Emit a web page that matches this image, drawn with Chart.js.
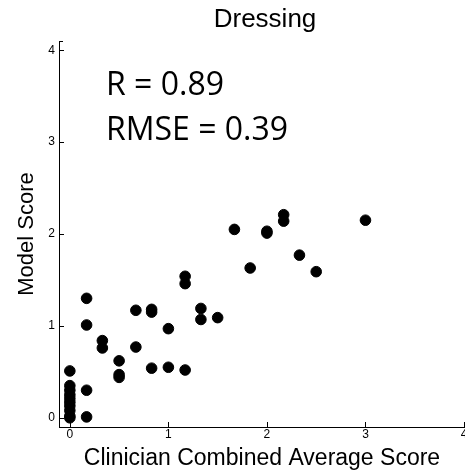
<!DOCTYPE html>
<html>
<head>
<meta charset="utf-8">
<script src="https://cdn.jsdelivr.net/npm/chart.js@4.4.0/dist/chart.umd.min.js"></script>
<style>
  html, body { margin: 0; padding: 0; background: #fff; }
  #wrap { width: 465px; height: 473px; }
</style>
</head>
<body>
<div id="wrap"><canvas id="c" width="465" height="473"></canvas></div>
<script>
// clinician combined average score vs model score
const clinicianScore = [
  0, 0, 0, 0, 0, 0, 0, 0, 0, 0,
  0.17, 0.17, 0.17, 0.17,
  0.33, 0.33,
  0.5, 0.5, 0.5,
  0.67, 0.67,
  0.83, 0.83, 0.83,
  1.0, 1.0,
  1.17, 1.17, 1.17,
  1.33, 1.33,
  1.5,
  1.67, 1.83, 2.0, 2.0, 2.17, 2.17, 2.33, 2.5, 3.0
];
const modelScore = [
  0, 0.02, 0.08, 0.13, 0.17, 0.21, 0.25, 0.3, 0.35, 0.51,
  1.3, 1.01, 0.3, 0.01,
  0.84, 0.76,
  0.62, 0.47, 0.44,
  1.17, 0.77,
  1.18, 1.15, 0.54,
  0.97, 0.55,
  1.54, 1.46, 0.52,
  1.19, 1.07,
  1.09,
  2.05, 1.63, 2.03, 2.01, 2.21, 2.14, 1.77, 1.59, 2.15
];
const tickValues = [0, 1, 2, 3, 4];
const titleText = 'Dressing';
const statLines = ['R = 0.89', 'RMSE = 0.39'];

const points = clinicianScore.map((x, i) => ({ x, y: modelScore[i] }));

// inward tick marks + title + stats text
const decor = {
  id: 'decor',
  afterDraw(chart) {
    const { ctx, chartArea: a, scales } = chart;
    ctx.save();
    ctx.strokeStyle = '#000';
    ctx.lineWidth = 1;
    ctx.beginPath();
    tickValues.forEach(v => {
      const px = Math.round(scales.x.getPixelForValue(v)) + 0.5;
      ctx.moveTo(px, a.bottom); ctx.lineTo(px, a.bottom - 5);
      const py = Math.round(scales.y.getPixelForValue(v)) + 0.5;
      ctx.moveTo(a.left, py); ctx.lineTo(a.left + 5, py);
    });
    // small cap at top of y axis
    ctx.moveTo(a.left, a.top + 0.5); ctx.lineTo(a.left + 4, a.top + 0.5);
    ctx.stroke();

    ctx.fillStyle = '#000';
    ctx.textAlign = 'center';
    ctx.textBaseline = 'alphabetic';
    ctx.font = '26px "Liberation Sans", Arial, sans-serif';
    ctx.fillText(titleText, 265, 27);

    ctx.textAlign = 'left';
    ctx.font = '32px "Open Sans", sans-serif';
    ctx.fillText(statLines[0], a.left + 47, 95);
    ctx.fillText(statLines[1], a.left + 47, 140);
    ctx.restore();
  }
};

new Chart(document.getElementById('c'), {
  type: 'scatter',
  data: {
    datasets: [{
      data: points,
      backgroundColor: '#000',
      borderColor: '#000',
      pointRadius: 5.3,
      pointHoverRadius: 5.3
    }]
  },
  options: {
    responsive: false,
    animation: false,
    clip: false,
    layout: { autoPadding: false, padding: { top: 41, right: 0, left: 0, bottom: 0 } },
    plugins: { legend: { display: false }, tooltip: { enabled: false } },
    scales: {
      x: {
        type: 'linear',
        min: -0.11,
        max: 4.01,
        afterFit: s => { s.height = 46; s.paddingRight = 0; s.paddingLeft = 0; },
        ticks: {
          stepSize: 1,
          includeBounds: false,
          color: '#000',
          padding: 0,
          maxRotation: 0,
          font: { family: '"Liberation Sans", Arial, sans-serif', size: 12 }
        },
        grid: { display: false, drawTicks: false },
        border: { display: true, color: '#000', width: 1 },
        title: {
          display: true,
          text: 'Clinician Combined Average Score',
          color: '#000',
          padding: { top: 0, bottom: 1 },
          font: { family: '"Liberation Sans", Arial, sans-serif', size: 23 }
        }
      },
      y: {
        type: 'linear',
        min: -0.1,
        max: 4.1,
        afterFit: s => { s.width = 59; s.paddingTop = 0; s.paddingBottom = 0; },
        ticks: {
          stepSize: 1,
          includeBounds: false,
          color: '#000',
          padding: 4,
          font: { family: '"Liberation Sans", Arial, sans-serif', size: 12 }
        },
        grid: { display: false, drawTicks: false },
        border: { display: true, color: '#000', width: 1 },
        title: {
          display: true,
          text: 'Model Score',
          color: '#000',
          padding: { top: 14, bottom: 0 },
          font: { family: '"Liberation Sans", Arial, sans-serif', size: 22 }
        }
      }
    }
  },
  plugins: [decor]
});
</script>
</body>
</html>
